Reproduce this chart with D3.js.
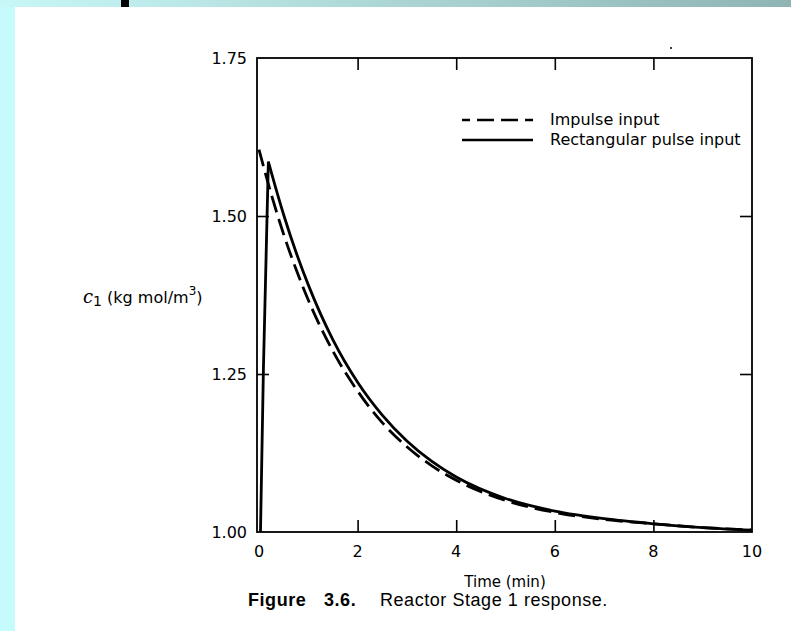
<!DOCTYPE html>
<html>
<head>
<meta charset="utf-8">
<script src="https://cdn.jsdelivr.net/npm/d3@7"></script>
<style>
  html, body { margin: 0; padding: 0; background: #fff; }
  svg { display: block; }
</style>
</head>
<body>
<svg width="791" height="631"></svg>
<script>
/*
Data
*/
var xTicks = [0, 2, 4, 6, 8, 10];
var yTicks = [1.00, 1.25, 1.50, 1.75];
var yTickLabels = ["1.00", "1.25", "1.50", "1.75"];

// impulse input (dashed): jumps to 1.605 at t = 0 then decays
var impulseTime = [0, 0.25, 0.5, 0.75, 1, 1.5, 2, 2.5, 3, 3.5, 4, 5, 6, 7, 8, 9, 10];
var impulseConc = [1.605, 1.534, 1.471, 1.416, 1.367, 1.286, 1.223, 1.173, 1.135, 1.105, 1.082, 1.050, 1.031, 1.020, 1.013, 1.007, 1.003];

// rectangular pulse input (solid): short rise, then decay
var pulseTime = [0.03, 0.09, 0.19, 0.25, 0.5, 0.75, 1, 1.5, 2, 2.5, 3, 3.5, 4, 5, 6, 7, 8, 9, 10];
var pulseConc = [1.00, 1.26, 1.586, 1.569, 1.502, 1.443, 1.391, 1.304, 1.237, 1.185, 1.144, 1.112, 1.087, 1.053, 1.033, 1.021, 1.013, 1.007, 1.003];

var legendLabels = ["Impulse input", "Rectangular pulse input"];

/*
Layout
*/
var svg = d3.select("svg");
var W = 791, H = 631;
var frame = { left: 257, right: 752, top: 58, bottom: 532 };

var x = d3.scaleLinear().domain([0, 10]).range([259, frame.right]);
var y = d3.scaleLinear().domain([1, 1.75]).range([frame.bottom, frame.top]);

// slide background: cyan strip left, gradient band on top
var defs = svg.append("defs");
var grad = defs.append("linearGradient").attr("id", "band");
grad.append("stop").attr("offset", "0%").attr("stop-color", "#c8f7f7");
grad.append("stop").attr("offset", "100%").attr("stop-color", "#8fb4b4");

svg.append("rect").attr("x", 0).attr("y", 0).attr("width", 15).attr("height", H).attr("fill", "#c6fbfb");
svg.append("rect").attr("x", 0).attr("y", 0).attr("width", W).attr("height", 7).attr("fill", "url(#band)");
svg.append("rect").attr("x", 121).attr("y", 0).attr("width", 8).attr("height", 7).attr("fill", "#000");

var g = svg.append("g");

/* axes */
var tickLen = 12;
var innerX = xTicks.filter(function (d) { return d > 0 && d < 10; });
var innerY = yTicks.filter(function (d) { return d > 1 && d < 1.75; });

// bottom ticks point up, top ticks point down
g.append("g")
    .attr("transform", "translate(0," + frame.bottom + ")")
    .call(d3.axisBottom(x).tickValues(innerX).tickSize(-tickLen).tickFormat(""))
    .call(function (a) { a.select(".domain").remove(); });
g.append("g")
    .attr("transform", "translate(0," + frame.top + ")")
    .call(d3.axisTop(x).tickValues(innerX).tickSize(-tickLen).tickFormat(""))
    .call(function (a) { a.select(".domain").remove(); });
g.append("g")
    .attr("transform", "translate(" + frame.left + ",0)")
    .call(d3.axisLeft(y).tickValues(innerY).tickSize(-tickLen).tickFormat(""))
    .call(function (a) { a.select(".domain").remove(); });
g.append("g")
    .attr("transform", "translate(" + frame.right + ",0)")
    .call(d3.axisRight(y).tickValues(innerY).tickSize(-tickLen).tickFormat(""))
    .call(function (a) { a.select(".domain").remove(); });
g.selectAll(".tick line").attr("stroke", "#000").attr("stroke-width", 1.6);

g.append("rect")
    .attr("x", frame.left).attr("y", frame.top)
    .attr("width", frame.right - frame.left).attr("height", frame.bottom - frame.top)
    .attr("fill", "none").attr("stroke", "#000").attr("stroke-width", 1.8);

// tick labels
g.selectAll(".xlab").data(xTicks).enter().append("text")
    .attr("x", function (d) { return x(d); })
    .attr("y", 557)
    .attr("text-anchor", "middle")
    .style("font", "16px 'DejaVu Sans'")
    .text(function (d) { return d; });

g.selectAll(".ylab").data(yTicks).enter().append("text")
    .attr("x", 247)
    .attr("y", function (d) { return y(d) + 6; })
    .attr("text-anchor", "end")
    .style("font", "16px 'DejaVu Sans'")
    .text(function (d, i) { return yTickLabels[i]; });

// axis titles
g.append("text")
    .attr("x", 505).attr("y", 587)
    .attr("text-anchor", "middle")
    .style("font", "15px 'DejaVu Sans'")
    .text("Time (min)");

var ylab = g.append("text")
    .attr("x", 83).attr("y", 303)
    .style("font", "16px 'DejaVu Sans'");
ylab.append("tspan").style("font", "italic 18px 'DejaVu Serif'").text("c");
ylab.append("tspan").attr("dy", 3).style("font-size", "14px").text("1");
ylab.append("tspan").attr("dy", -3).text(" (kg mol/m");
ylab.append("tspan").attr("dy", -8).style("font-size", "12px").text("3");
ylab.append("tspan").attr("dy", 8).text(")");

// caption
var cap = g.append("text")
    .attr("y", 606)
    .style("font", "18px 'Liberation Sans'")
    .style("letter-spacing", "0.55px");
cap.append("tspan").attr("x", 248).style("font-weight", "bold").text("Figure");
cap.append("tspan").attr("x", 324).style("font-weight", "bold").text("3.6.");
cap.append("tspan").attr("x", 380).text("Reactor Stage 1 response.");

/* curves */
var impulsePts = impulseTime.map(function (t, i) { return [t, impulseConc[i]]; });
var pulsePts = pulseTime.map(function (t, i) { return [t, pulseConc[i]]; });

var smooth = d3.line()
    .x(function (d) { return x(d[0]); })
    .y(function (d) { return y(d[1]); })
    .curve(d3.curveMonotoneX);
var straight = d3.line()
    .x(function (d) { return x(d[0]); })
    .y(function (d) { return y(d[1]); });

g.append("path")
    .attr("d", smooth(impulsePts))
    .attr("fill", "none").attr("stroke", "#000")
    .attr("stroke-width", 2.8).attr("stroke-dasharray", "17,7");

g.append("path")
    .attr("d", straight(pulsePts.slice(0, 3)))
    .attr("fill", "none").attr("stroke", "#000").attr("stroke-width", 2.8);
g.append("path")
    .attr("d", smooth(pulsePts.slice(2)))
    .attr("fill", "none").attr("stroke", "#000").attr("stroke-width", 2.8);

/* legend */
var legY = [120, 140];
g.append("line")
    .attr("x1", 462).attr("x2", 533).attr("y1", legY[0]).attr("y2", legY[0])
    .attr("stroke", "#000").attr("stroke-width", 2.4).attr("stroke-dasharray", "8,7,17,7,17,7,17");
g.append("line")
    .attr("x1", 462).attr("x2", 533).attr("y1", legY[1]).attr("y2", legY[1])
    .attr("stroke", "#000").attr("stroke-width", 2.4);
g.selectAll(".leg").data(legendLabels).enter().append("text")
    .attr("x", 550)
    .attr("y", function (d, i) { return legY[i] + 5; })
    .style("font", "16px 'DejaVu Sans'")
    .text(function (d) { return d; });

// stray scan dot near the top frame
g.append("circle").attr("cx", 671).attr("cy", 48).attr("r", 1).attr("fill", "#000");
</script>
</body>
</html>
